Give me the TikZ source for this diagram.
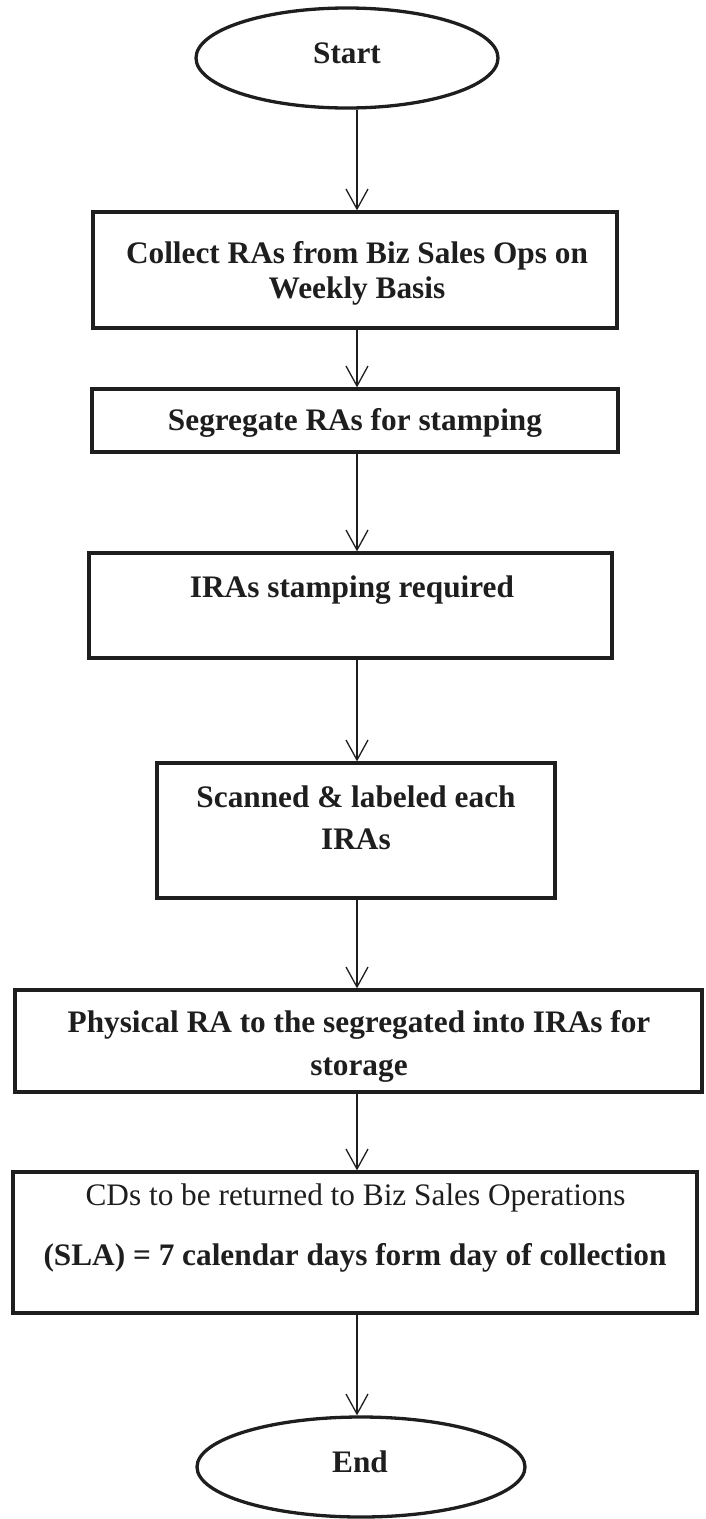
\documentclass[tikz,border=0pt]{standalone}
\usepackage{fontspec}
\setmainfont{Liberation Serif}
\usetikzlibrary{arrows.meta,shapes.geometric}
\definecolor{ink}{HTML}{1E1E1E}
\begin{document}
\begin{tikzpicture}[x=1pt,y=-1pt,
  stepbox/.style={draw=ink, line width=3.3pt, rectangle, inner sep=0pt},
  terminal/.style={draw=ink, line width=3.3pt, ellipse, inner sep=0pt},
  lbl/.style={anchor=base, inner sep=0pt, text=ink, font=\fontsize{31.3}{36}\selectfont\bfseries},
  plain/.style={lbl, font=\fontsize{31.3}{36}\selectfont},
  flow/.style={draw=ink, line width=1.3pt, -{Straight Barb[length=20pt,width=22pt]}}]
\useasboundingbox (0,0) rectangle (706,1519);

% common vertical axis of the connectors
\coordinate (axis) at (357,0);

% shapes
\node[terminal, minimum width=302pt, minimum height=100pt] (start) at (347,58) {};
\node[stepbox, minimum width=524pt, minimum height=116pt] (b1) at (355,270) {};
\node[stepbox, minimum width=526pt, minimum height=63pt]  (b2) at (355,420.5) {};
\node[stepbox, minimum width=523pt, minimum height=105pt] (b3) at (350.5,605.5) {};
\node[stepbox, minimum width=398pt, minimum height=135pt] (b4) at (356,830.5) {};
\node[stepbox, minimum width=687pt, minimum height=102pt] (b5) at (358.5,1041) {};
\node[stepbox, minimum width=684pt, minimum height=141pt] (b6) at (355,1242.5) {};
\node[terminal, minimum width=328pt, minimum height=100pt] (end) at (361,1467) {};

% labels
\node[lbl] (tstart) at (347,63) {Start};
\node[lbl] (t1a) at (357,263) {Collect RAs from Biz Sales Ops on};
\node[lbl] (t1b) at (357,298) {Weekly Basis};
\node[lbl] (t2) at (355,430) {Segregate RAs for stamping};
\node[lbl] (t3) at (352,597) {IRAs stamping required};
\node[lbl] (t4a) at (356,807) {Scanned \& labeled each};
\node[lbl] (t4b) at (356,849) {IRAs};
\node[lbl] (t5a) at (359,1032) {Physical RA to the segregated into IRAs for};
\node[lbl] (t5b) at (359,1075) {storage};
\node[plain] (t6a) at (355.5,1205) {CDs to be returned to Biz Sales Operations};
\node[lbl] (t6b) at (355,1265) {(SLA) = 7 calendar days form day of collection};
\node[lbl] (tend) at (360,1472) {End};

% connectors
\draw[flow] (axis |- start.south) -- (axis |- b1.north);
\draw[flow] (axis |- b1.south) -- (axis |- b2.north);
\draw[flow] (axis |- b2.south) -- (axis |- b3.north);
\draw[flow] (axis |- b3.south) -- (axis |- b4.north);
\draw[flow] (axis |- b4.south) -- (axis |- b5.north);
\draw[flow] (axis |- b5.south) -- (axis |- b6.north);
\draw[flow] (axis |- b6.south) -- (axis |- end.north);
\end{tikzpicture}
\end{document}
